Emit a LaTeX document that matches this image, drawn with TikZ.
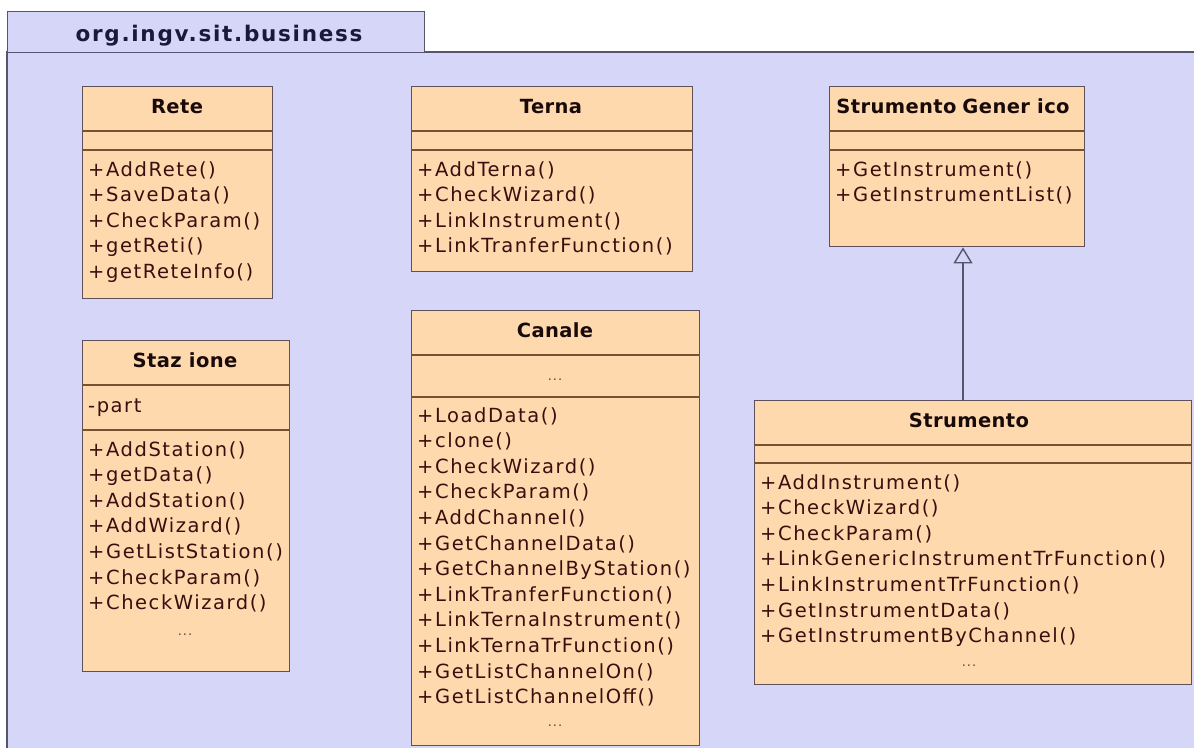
\documentclass[tikz,border=0pt]{standalone}
\usepackage{fontspec}
\setmainfont{DejaVu Sans}[LetterSpace=8]
\newfontfamily\ttlfont{DejaVu Sans}[LetterSpace=2]
\usetikzlibrary{arrows.meta}
\definecolor{pkgfill}{RGB}{214,214,248}
\definecolor{pkgline}{RGB}{85,85,110}
\definecolor{boxfill}{RGB}{255,217,174}
\definecolor{boxline}{RGB}{95,80,90}
\definecolor{sepline}{RGB}{120,80,50}
\definecolor{txt}{RGB}{55,15,15}
\definecolor{ttl}{RGB}{25,10,10}
\definecolor{pkgtxt}{RGB}{25,25,60}
\tikzset{
  umlbox/.style={draw=boxline, fill=boxfill, line width=1.4pt, anchor=north west, inner sep=0pt, rectangle},
  sepl/.style={draw=sepline, line width=1.3pt},
  meth/.style={anchor=base west, inner sep=0pt, text=txt, font=\fontsize{19.5}{22}\selectfont},
  dots/.style={anchor=base, inner sep=0pt, text=txt!80, font=\fontsize{13}{16}\selectfont},
  ttlnode/.style={anchor=base, inner sep=0pt, text=ttl, font=\ttlfont\fontsize{19.5}{22}\selectfont\bfseries},
  gen/.style={draw=pkgline, line width=1.4pt, -{Triangle[open, width=19pt, length=16pt, fill=pkgfill]}}
}
\begin{document}
\begin{tikzpicture}[x=1pt, y=-1pt]
\useasboundingbox (0,0) rectangle (1194,747);
\fill[white] (0,0) rectangle (1194,747);
% package
\fill[pkgfill] (7,52) rectangle (1200,760);
\draw[pkgline, line width=1.4pt] (7,760) -- (7,52) -- (1200,52);
\node[draw=pkgline, fill=pkgfill, line width=1.4pt, anchor=north west, minimum width=417pt, minimum height=41pt, inner sep=0pt] (tab) at (7,11) {};
\node[anchor=base, inner sep=0pt, text=pkgtxt, font=\fontsize{21.5}{24}\selectfont\bfseries] (pkgname) at (219,41) {org.ingv.sit.business};

% Rete
\node[umlbox, minimum width=190pt, minimum height=212pt] (rete) at (82,86) {};
\draw[sepl] (82,131) -- (272,131) (82,150) -- (272,150);
\node[ttlnode] (rete-t) at (177,113) {Rete};
\foreach \t [count=\i] in {+AddRete(), +SaveData(), +CheckParam(), +getReti(), +getReteInfo()}
  \node[meth] (rete-m\i) at (88,{176+25.6*(\i-1)}) {\t};

% Stazione
\node[umlbox, minimum width=207pt, minimum height=331pt] (staz) at (82,340) {};
\draw[sepl] (82,385) -- (289,385) (82,430) -- (289,430);
\node[ttlnode] (staz-t) at (185,367) {Staz ione};
\node[meth] (staz-a) at (88,412) {-part};
\foreach \t [count=\i] in {+AddStation(), +getData(), +AddStation(), +AddWizard(), +GetListStation(), +CheckParam(), +CheckWizard()}
  \node[meth] (staz-m\i) at (88,{456+25.6*(\i-1)}) {\t};
\node[dots] (staz-d) at (185,635) {...};

% Terna
\node[umlbox, minimum width=281pt, minimum height=185pt] (terna) at (411,86) {};
\draw[sepl] (411,131) -- (692,131) (411,150) -- (692,150);
\node[ttlnode] (terna-t) at (551,113) {Terna};
\foreach \t [count=\i] in {+AddTerna(), +CheckWizard(), +LinkInstrument(), +LinkTranferFunction()}
  \node[meth] (terna-m\i) at (417,{176+25.6*(\i-1)}) {\t};

% Canale
\node[umlbox, minimum width=288pt, minimum height=435pt] (canale) at (411,310) {};
\draw[sepl] (411,355) -- (699,355) (411,397) -- (699,397);
\node[ttlnode] (canale-t) at (555,337) {Canale};
\node[dots] (canale-a) at (555,380) {...};
\foreach \t [count=\i] in {+LoadData(), +clone(), +CheckWizard(), +CheckParam(), +AddChannel(), +GetChannelData(), +GetChannelByStation(), +LinkTranferFunction(), +LinkTernaInstrument(), +LinkTernaTrFunction(), +GetListChannelOn(), +GetListChannelOff()}
  \node[meth] (canale-m\i) at (417,{422+25.6*(\i-1)}) {\t};
\node[dots] (canale-d) at (555,726) {...};

% Strumento Generico
\node[umlbox, minimum width=255pt, minimum height=160pt] (sgen) at (829,86) {};
\draw[sepl] (829,131) -- (1084,131) (829,150) -- (1084,150);
\node[ttlnode] (sgen-t) at (953,113) {Strumento\hspace{6pt}Gener ico};
\foreach \t [count=\i] in {+GetInstrument(), +GetInstrumentList()}
  \node[meth] (sgen-m\i) at (835,{176+25.6*(\i-1)}) {\t};

% Strumento
\node[umlbox, minimum width=437pt, minimum height=284pt] (strum) at (754,400) {};
\draw[sepl] (754,445) -- (1191,445) (754,463) -- (1191,463);
\node[ttlnode] (strum-t) at (969,427) {Strumento};
\foreach \t [count=\i] in {+AddInstrument(), +CheckWizard(), +CheckParam(), +LinkGenericInstrumentTrFunction(), +LinkInstrumentTrFunction(), +GetInstrumentData(), +GetInstrumentByChannel()}
  \node[meth] (strum-m\i) at (760,{489+25.6*(\i-1)}) {\t};
\node[dots] (strum-d) at (969,666) {...};

% generalization
\coordinate (gx) at (963,0);
\draw[gen] (strum.north -| gx) -- (sgen.south -| gx);
\end{tikzpicture}
\end{document}
